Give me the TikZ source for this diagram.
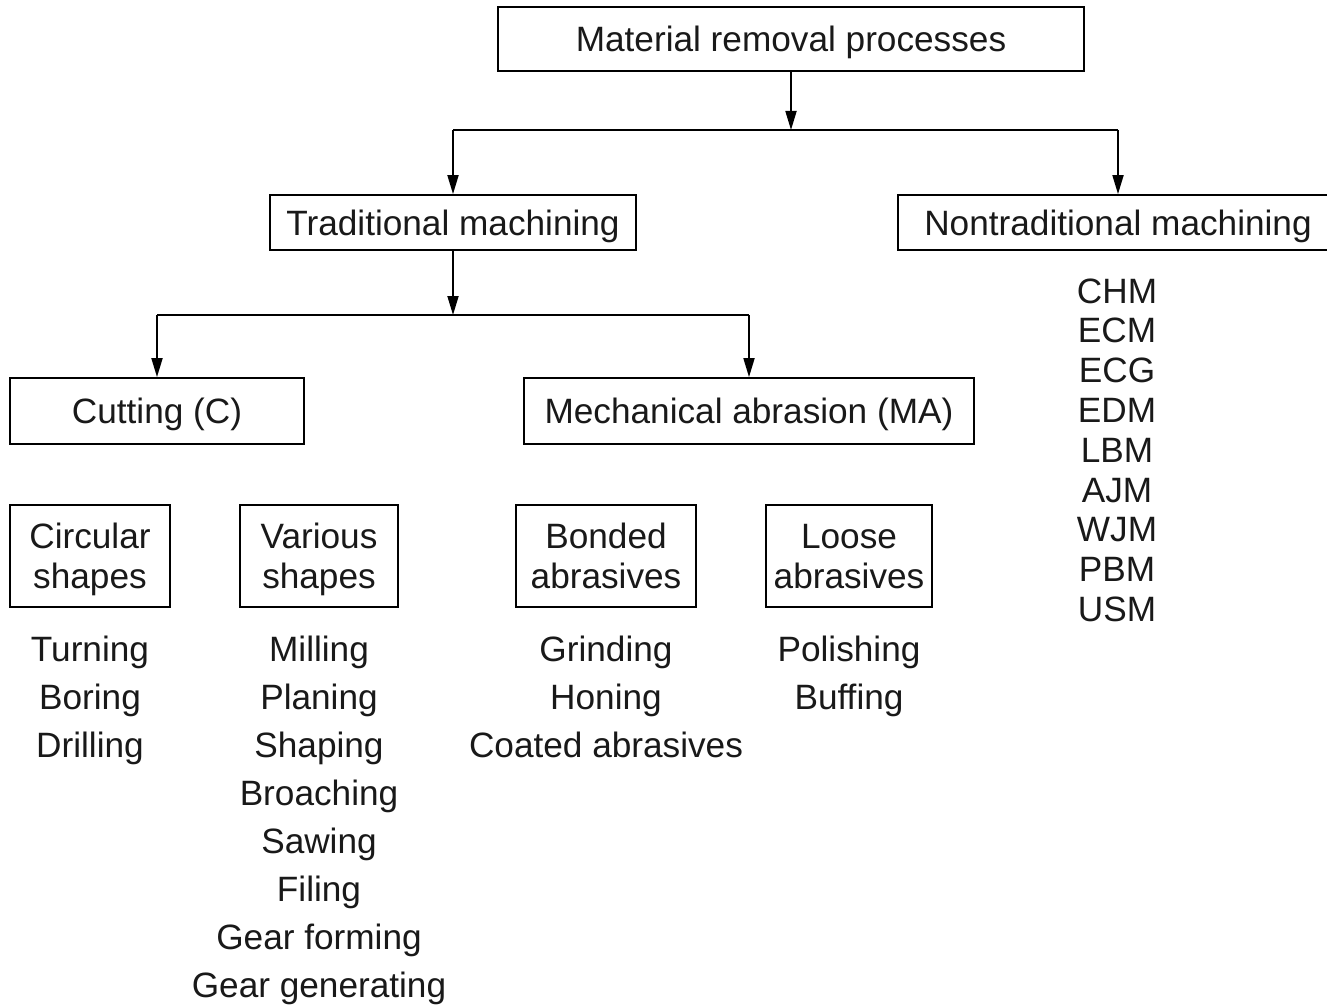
\documentclass[tikz,border=0pt]{standalone}
\usepackage{fontspec}
\setmainfont{Liberation Sans}
\usetikzlibrary{arrows.meta}
\tikzset{
  x=1pt, y=-1pt,
  every node/.style={font=\fontsize{35.2}{40}\selectfont, text=black!90},
  box/.style={draw, line width=1.8pt, inner sep=0pt, align=center, text height=25.3pt, text depth=0pt},
  box2/.style={box, text height=65.3pt},
  arr/.style={line width=1.8pt, -{Triangle[length=19pt,width=11pt]}},
  ln/.style={line width=1.8pt},
  item/.style={anchor=base, inner sep=0pt}
}
\begin{document}
\begin{tikzpicture}
\useasboundingbox (0,0) rectangle (1327,1006);
\fill[white] (0,0) rectangle (1327,1006);
% boxes
\node[box, minimum width=586pt, minimum height=64pt] (mat) at (791,39) {Material removal processes};
\node[box, minimum width=366pt, minimum height=55pt] (trad) at (453,222.5) {Traditional machining};
\node[box, minimum width=440pt, minimum height=55pt] (nont) at (1118,222.5) {Nontraditional machining};
\node[box, minimum width=294pt, minimum height=66pt] (cut) at (157,411) {Cutting (C)};
\node[box, minimum width=450pt, minimum height=66pt] (ma) at (749,411) {Mechanical abrasion (MA)};
\node[box2, minimum width=160pt, minimum height=102pt] (circ) at (90,556) {Circular\\shapes};
\node[box2, minimum width=158pt, minimum height=102pt] (var) at (319,556) {Various\\shapes};
\node[box2, minimum width=180pt, minimum height=102pt] (bond) at (606,556) {Bonded\\abrasives};
\node[box2, minimum width=166pt, minimum height=102pt] (loose) at (849,556) {Loose\\abrasives};
% connectors
\coordinate (j1) at (791,130);
\coordinate (j1l) at (453,130);
\coordinate (j1r) at (1118,130);
\draw[arr] (mat.south) -- (j1);
\draw[ln] (j1l) -- (j1r);
\draw[arr] (j1l) -- (trad.north);
\draw[arr] (j1r) -- (nont.north);
\coordinate (j2) at (453,315);
\coordinate (j2l) at (157,315);
\coordinate (j2r) at (749,315);
\draw[arr] (trad.south) -- (j2);
\draw[ln] (j2l) -- (j2r);
\draw[arr] (j2l) -- (cut.north);
\draw[arr] (j2r) -- (ma.north);
% lists
\foreach \t [count=\i] in {Turning, Boring, Drilling}
  \node[item] (circ\i) at (90, 661+48*\i-48) {\t};
\foreach \t [count=\i] in {Milling, Planing, Shaping, Broaching, Sawing, Filing, Gear forming, Gear generating}
  \node[item] (var\i) at (319, 661+48.1*\i-48.1) {\t};
\foreach \t [count=\i] in {Grinding, Honing, Coated abrasives}
  \node[item] (bond\i) at (606, 661+48*\i-48) {\t};
\foreach \t [count=\i] in {Polishing, Buffing}
  \node[item] (loose\i) at (849, 661+48*\i-48) {\t};
\foreach \t [count=\i] in {CHM, ECM, ECG, EDM, LBM, AJM, WJM, PBM, USM}
  \node[item] (nt\i) at (1117, 303+39.8*\i-39.8) {\t};
\end{tikzpicture}
\end{document}
